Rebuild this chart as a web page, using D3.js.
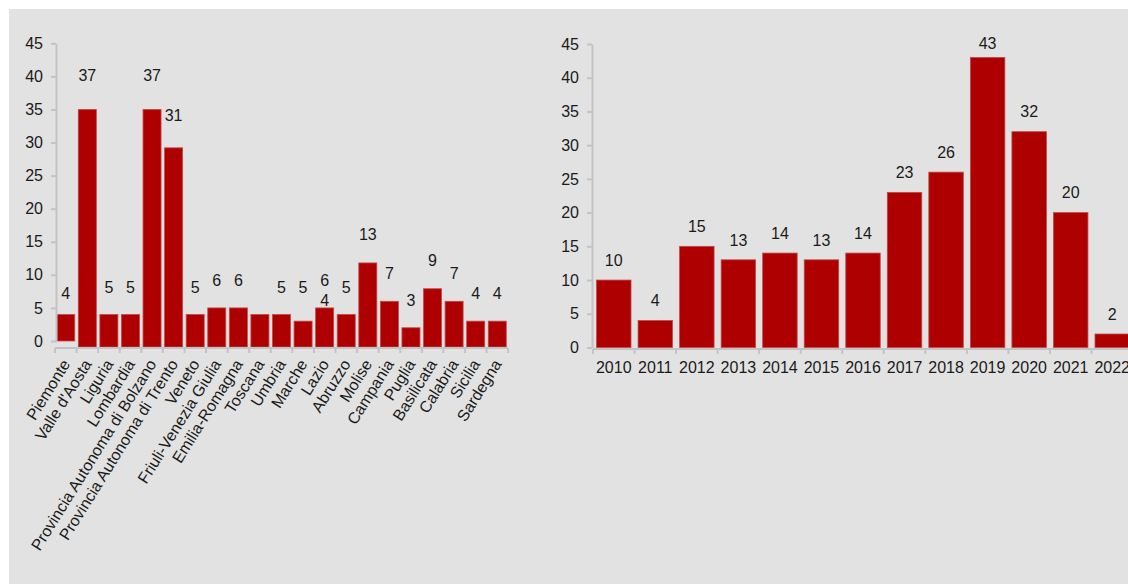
<!DOCTYPE html>
<html>
<head>
<meta charset="utf-8">
<script src="https://cdn.jsdelivr.net/npm/d3@7/dist/d3.min.js"></script>
<style>
  html, body { margin: 0; padding: 0; background: #ffffff; }
  svg { display: block; }
  text { font-family: "Liberation Sans", Arial, sans-serif; font-size: 16px; fill: #1a1a1a; }
</style>
</head>
<body>
<svg id="chart" width="1128" height="584"></svg>
<script>
// ---------- data ----------
const regions = ["Piemonte", "Valle d'Aosta", "Liguria", "Lombardia", "Provincia Autonoma di Bolzano",
  "Provincia Autonoma di Trento", "Veneto", "Friuli-Venezia Giulia", "Emilia-Romagna", "Toscana",
  "Umbria", "Marche", "Lazio", "Abruzzo", "Molise", "Campania", "Puglia", "Basilicata", "Calabria",
  "Sicilia", "Sardegna"];
const regionBars = [4, 35, 4, 4, 35, 29.2, 4, 5, 5, 4, 4, 3, 5, 4, 11.8, 6, 2, 7.9, 6, 3, 3];
const regionLabelCats = ["Piemonte", "Valle d'Aosta", "Liguria", "Lombardia", "Provincia Autonoma di Bolzano",
  "Provincia Autonoma di Trento", "Veneto", "Friuli-Venezia Giulia", "Emilia-Romagna",
  "Umbria", "Marche", "Lazio", "Lazio", "Abruzzo", "Molise", "Campania", "Puglia", "Basilicata",
  "Calabria", "Sicilia", "Sardegna"];
const regionLabelVals = [4, 37, 5, 5, 37, 31, 5, 6, 6, 5, 5, 6, 4, 5, 13, 7, 3, 9, 7, 4, 4];
const zeroBasedRegions = ["Piemonte"];

const years = ["2010", "2011", "2012", "2013", "2014", "2015", "2016", "2017", "2018", "2019", "2020", "2021", "2022"];
const yearValues = [10, 4, 15, 13, 14, 13, 14, 23, 26, 43, 32, 20, 2];

const yTicks = [0, 5, 10, 15, 20, 25, 30, 35, 40, 45];

// ---------- style ----------
const BAR = "#ae0000";
const BAR_EDGE = "#c24848";
const AXIS = "#c3c3c3";
const FONT = "16px";

const svg = d3.select("#chart");
svg.append("rect").attr("x", 9).attr("y", 9).attr("width", 1128 - 9).attr("height", 584 - 9).attr("fill", "#e2e2e2");

function drawYAxis(g, y, xPos) {
  const ax = g.append("g").attr("transform", `translate(${xPos},0)`)
    .call(d3.axisLeft(y).tickValues(yTicks).tickSize(5).tickSizeOuter(0).tickPadding(8));
  ax.select(".domain").attr("stroke", AXIS).attr("stroke-width", 2);
  ax.selectAll(".tick line").attr("stroke", AXIS).attr("stroke-width", 2);
  ax.selectAll(".tick text").style("font-size", FONT).attr("fill", "#1a1a1a")
    .style("font-family", "'Liberation Sans', Arial, sans-serif");
}

function drawXBaseline(g, x, baseY, n) {
  const r = x.range();
  g.append("line").attr("x1", r[0]).attr("x2", r[1]).attr("y1", baseY).attr("y2", baseY)
    .attr("stroke", AXIS).attr("stroke-width", 2);
  const step = x.step();
  g.selectAll(null).data(d3.range(n + 1)).enter().append("line")
    .attr("x1", i => r[0] + i * step).attr("x2", i => r[0] + i * step)
    .attr("y1", baseY).attr("y2", baseY + 5)
    .attr("stroke", AXIS).attr("stroke-width", 2);
}

// ---------- left chart: regions ----------
{
  const g = svg.append("g");
  const x = d3.scaleBand().domain(regions).range([55, 508]).paddingInner(0.165).paddingOuter(0.08);
  const y = d3.scaleLinear().domain([0, 45]).range([341, 43.3]);
  const baseY = 348;

  g.selectAll("rect.bar").data(regions).enter().append("rect")
    .attr("class", "bar")
    .attr("x", d => x(d))
    .attr("width", x.bandwidth())
    .attr("y", (d, i) => y(regionBars[i]))
    .attr("height", (d, i) => (zeroBasedRegions.includes(d) ? y(0) : baseY - 1) - y(regionBars[i]))
    .attr("fill", BAR).attr("stroke", BAR_EDGE).attr("stroke-width", 0.8);

  drawYAxis(g, y, 56);
  drawXBaseline(g, x, baseY, regions.length);

  // value labels; labels sharing a category are stacked downward so they don't collide
  const lastY = {};
  const labelY = regionLabelCats.map((c, i) => {
    let yy = y(regionLabelVals[i]) - 21;
    if (lastY[c] !== undefined && yy < lastY[c] + 20) yy = lastY[c] + 20;
    lastY[c] = yy;
    return yy;
  });
  g.selectAll("text.val").data(regionLabelCats).enter().append("text")
    .attr("class", "val")
    .attr("x", d => x(d) + x.bandwidth() / 2)
    .attr("y", (d, i) => labelY[i] + 5.8)
    .attr("text-anchor", "middle")
    .text((d, i) => regionLabelVals[i]);

  g.selectAll("text.cat").data(regions).enter().append("text")
    .attr("class", "cat")
    .attr("text-anchor", "end")
    .attr("transform", d => `translate(${x(d) + x.bandwidth() / 2 + 5},${baseY + 16}) rotate(-58)`)
    .text(d => d);
}

// ---------- right chart: years ----------
{
  const g = svg.append("g");
  const x = d3.scaleBand().domain(years).range([593, 1133]).paddingInner(0.17).paddingOuter(0.085);
  const y = d3.scaleLinear().domain([0, 45]).range([347.5, 44]);
  const baseY = 349;

  g.selectAll("rect.bar").data(years).enter().append("rect")
    .attr("class", "bar")
    .attr("x", d => x(d))
    .attr("width", x.bandwidth())
    .attr("y", (d, i) => y(yearValues[i]))
    .attr("height", (d, i) => y(0) - y(yearValues[i]))
    .attr("fill", BAR).attr("stroke", BAR_EDGE).attr("stroke-width", 0.8);

  drawYAxis(g, y, 592);
  drawXBaseline(g, x, baseY, years.length);

  g.selectAll("text.val").data(years).enter().append("text")
    .attr("class", "val")
    .attr("x", d => x(d) + x.bandwidth() / 2)
    .attr("y", (d, i) => Math.max(y(yearValues[i]) - 20, y(45) - 0.7) + 5.8)
    .attr("text-anchor", "middle")
    .text((d, i) => yearValues[i]);

  g.selectAll("text.cat").data(years).enter().append("text")
    .attr("class", "cat")
    .attr("x", d => x(d) + x.bandwidth() / 2)
    .attr("y", 373)
    .attr("text-anchor", "middle")
    .text(d => d);
}
</script>
</body>
</html>
